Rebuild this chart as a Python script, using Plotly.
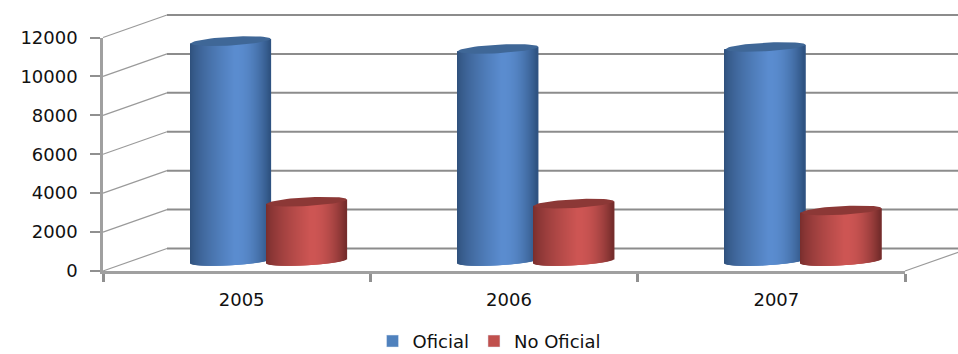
import numpy as np
import plotly.graph_objects as go

# --- data ---
years = ["2005", "2006", "2007"]
oficial = [11300, 10900, 11000]
no_oficial = [3050, 2950, 2600]
y_ticks = [0, 2000, 4000, 6000, 8000, 10000, 12000]
y_tick_text = ["0", "2000", "4000", "6000", "8000", "10000", "12000"]

# --- styles / projection constants ---
W, H = 958, 354
LEFT, RIGHT, TOP, BOTTOM = 103, 905, 37.5, 271   # axes box in pixels
PX_X = (RIGHT - LEFT) / len(years)               # pixels per category
PX_Y = (BOTTOM - TOP) / 12000                    # pixels per value unit
DEPTH_X = 64 / PX_X        # wall depth in category units
DEPTH_Y = 22.5 / PX_Y      # wall depth in value units
FLOOR = 10 / PX_Y          # cylinder base centre above the axis
SHIFT = 32 / PX_X          # half the depth
HALF_W = 40 / PX_X         # cylinder radius
SIDE = 38 / PX_X           # cylinder centre distance from pair centre
ELL_B = 4.3 / PX_Y         # ellipse minor radius
TILT = 2.2 / PX_Y          # ellipse tilt
N = 80
GRID = "#8c8c8c"
FONT = dict(family="DejaVu Sans", size=18, color="#111111")

BLUE = dict(edge_l=(46, 79, 122), mid=(91, 141, 208), edge_r=(46, 82, 128),
            top="#3f6797", legend="#4f81bd")
RED = dict(edge_l=(118, 45, 44), mid=(206, 86, 84), edge_r=(116, 44, 43),
           top="#8c3836", legend="#c0504d")


def mix(a, b, t):
    return "rgb(%d,%d,%d)" % tuple(a[i] + (b[i] - a[i]) * t for i in range(3))


def shade(style, u):
    # u in [-1, 1]; brightest part sits a little right of the middle
    peak = 0.12
    if u < peak:
        return mix(style["edge_l"], style["mid"], ((u + 1) / (1 + peak)) ** 0.7)
    return mix(style["mid"], style["edge_r"], ((u - peak) / (1 - peak)) ** 2.0)


def cylinder(values, side, style, name):
    xs, tops, bases, cols = [], [], [], []
    step = 2 * HALF_W / N
    ex, ey = [], []
    for c, v in enumerate(values):
        cx = c + SHIFT + side
        for k in range(N):
            u = -1 + (k + 0.5) * 2 / N
            curve = np.sqrt(max(0.0, 1 - u * u))
            lo = FLOOR - ELL_B * curve + TILT * u
            hi = FLOOR + v + TILT * u
            xs.append(cx + u * HALF_W)
            bases.append(lo)
            tops.append(hi - lo)
            cols.append(shade(style, u))
        t = np.linspace(0, 2 * np.pi, 61)
        ex += list(cx + HALF_W * np.cos(t)) + [None]
        ey += list(FLOOR + v + TILT * np.cos(t) + ELL_B * np.sin(t)) + [None]
    bars = go.Bar(x=xs, y=tops, base=bases, width=step * 1.9,
                  marker=dict(color=cols, line=dict(width=0)),
                  xaxis="x3", yaxis="y3", showlegend=False,
                  hoverinfo="skip", name=name)
    cap = go.Scatter(x=ex, y=ey, mode="lines", fill="toself", fillcolor=style["top"],
                     line=dict(width=0, color=style["top"]), xaxis="x3", yaxis="y3",
                     showlegend=False, hoverinfo="skip", name=name)
    return [bars, cap]


# --- walls ---
n_cat = len(years)
back_x, back_y, skew_x, skew_y = [], [], [], []
for v in y_ticks:
    back_x += [-0.5 + DEPTH_X, n_cat - 0.5 + DEPTH_X, None]
    back_y += [v + DEPTH_Y, v + DEPTH_Y, None]
    skew_x += [-0.5, -0.5 + DEPTH_X, None]
    skew_y += [v, v + DEPTH_Y, None]
skew_x += [n_cat - 0.5, n_cat - 0.5 + DEPTH_X, None]
skew_y += [0, DEPTH_Y, None]

traces = [
    go.Scatter(x=back_x, y=back_y, mode="lines", line=dict(color=GRID, width=2),
               xaxis="x2", yaxis="y2", showlegend=False, hoverinfo="skip"),
    go.Scatter(x=skew_x, y=skew_y, mode="lines", line=dict(color="#9a9a9a", width=1.2),
               xaxis="x2", yaxis="y2", showlegend=False, hoverinfo="skip"),
]
traces += cylinder(oficial, -SIDE, BLUE, "Oficial")
traces += cylinder(no_oficial, SIDE, RED, "No Oficial")
traces += [
    go.Bar(x=[None], y=[None], name="Oficial", marker_color=BLUE["legend"]),
    go.Bar(x=[None], y=[None], name="No Oficial", marker_color=RED["legend"]),
]

fig = go.Figure(traces)
x_range = [-0.5, n_cat - 0.5]
y_range = [0, 12000]
# a full-figure coordinate system that lines up exactly with the axes box
x_full = [-0.5 - LEFT / PX_X, -0.5 + (W - LEFT) / PX_X]
y_full = [-(H - BOTTOM) / PX_Y, BOTTOM / PX_Y]
fig.update_layout(
    width=W, height=H, margin=dict(l=0, r=0, t=0, b=0, pad=0, autoexpand=False),
    paper_bgcolor="white", plot_bgcolor="rgba(0,0,0,0)", barmode="overlay",
    font=FONT, showlegend=True,
    xaxis=dict(domain=[LEFT / W, RIGHT / W], range=x_range, tickmode="array",
               tickvals=list(range(n_cat)), ticktext=years,
               ticks="", showgrid=False, zeroline=False, showline=True, automargin=False,
               linecolor="#a0a0a0", linewidth=2.5, ticklabelstandoff=11, ticklabelshift=5,
               minor=dict(tickmode="array", tickvals=[i - 0.5 for i in range(n_cat + 1)],
                          ticks="outside", ticklen=8, tickcolor="#909090", tickwidth=2.5,
                          showgrid=False)),
    yaxis=dict(domain=[1 - BOTTOM / H, 1 - TOP / H], range=y_range, tickmode="array",
               tickvals=y_ticks, ticktext=y_tick_text,
               ticks="outside", ticklen=10, automargin=False,
               tickcolor="#909090", tickwidth=2, showgrid=False, zeroline=False, showline=True,
               linecolor="#a0a0a0", linewidth=2.5, ticklabelstandoff=9),
    xaxis2=dict(domain=[0, 1], range=x_full, visible=False, fixedrange=True, anchor="y2"),
    yaxis2=dict(domain=[0, 1], range=y_full, visible=False, fixedrange=True, anchor="x2"),
    xaxis3=dict(domain=[0, 1], range=x_full, visible=False, fixedrange=True, anchor="y3"),
    yaxis3=dict(domain=[0, 1], range=y_full, visible=False, fixedrange=True, anchor="x3"),
    legend=dict(orientation="h", x=0.511, xanchor="center", y=0.088, yanchor="top",
                font=dict(family="DejaVu Sans", size=18, color="#111111"),
                itemwidth=30, bgcolor="rgba(0,0,0,0)"),
)
fig.write_html("out.html", config=dict(displayModeBar=False),
               post_script="document.body.style.margin='0';")
